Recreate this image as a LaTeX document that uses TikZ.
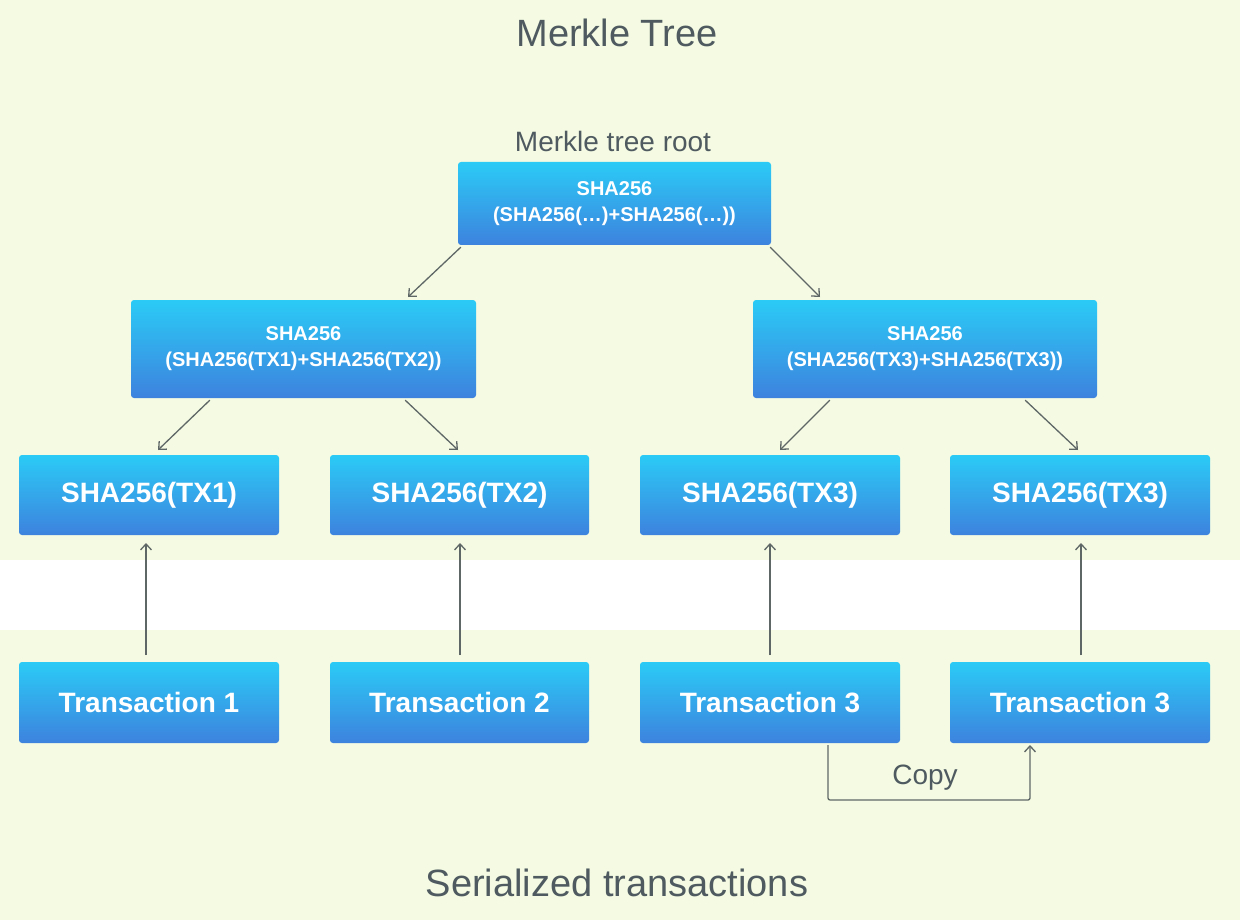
\documentclass[tikz,border=0pt]{standalone}
\usepackage{fontspec}
\setmainfont{Liberation Sans}
\usetikzlibrary{arrows.meta}
\definecolor{bg}{HTML}{F4FBE2}
\definecolor{btop}{HTML}{2BCBF6}
\definecolor{bbot}{HTML}{3D82DE}
\definecolor{txt}{HTML}{4F5A60}
\definecolor{ln}{HTML}{5F6666}
\begin{document}
\begin{tikzpicture}[x=1pt,y=-1pt,
  box/.style={rounded corners=3pt,top color=btop,bottom color=bbot,draw=none,text=white,font=\bfseries,align=center,inner sep=0pt},
  conn/.style={draw=ln,line width=1.3pt,-{Straight Barb[length=6pt,width=11pt]}}]
\useasboundingbox (0,0) rectangle (1240,920);
\fill[bg] (0,0) rectangle (1240,920);
\fill[white] (0,560) rectangle (1240,630);
\node[font=\fontsize{38}{40}\selectfont,text=txt] (t1) at (617,33) {Merkle Tree};
\node[font=\fontsize{28}{30}\selectfont,text=txt] (t2) at (613,141) {Merkle tree root};
\node[font=\fontsize{38}{40}\selectfont,text=txt] (t3) at (617,883) {Serialized transactions};
\newcommand{\bx}[6]{\node[box,minimum width=#4-#2,minimum height=#5-#3,font=#6] (#1) at ({(#2+#4)/2},{(#3+#5)/2})}
\bx{root}{458}{162}{771}{245}{\bfseries\fontsize{20}{26}\selectfont} {SHA256\\(SHA256(…)+SHA256(…))};
\bx{L}{131}{300}{476}{398}{\bfseries\fontsize{20}{26}\selectfont} {SHA256\\(SHA256(TX1)+SHA256(TX2))};
\bx{R}{753}{300}{1097}{398}{\bfseries\fontsize{20}{26}\selectfont} {SHA256\\(SHA256(TX3)+SHA256(TX3))};
\bx{h1}{19}{455}{279}{535}{\bfseries\fontsize{28}{30}\selectfont} {SHA256(TX1)};
\bx{h2}{330}{455}{589}{535}{\bfseries\fontsize{28}{30}\selectfont} {SHA256(TX2)};
\bx{h3}{640}{455}{900}{535}{\bfseries\fontsize{28}{30}\selectfont} {SHA256(TX3)};
\bx{h4}{950}{455}{1210}{535}{\bfseries\fontsize{28}{30}\selectfont} {SHA256(TX3)};
\bx{x1}{19}{662}{279}{743}{\bfseries\fontsize{28}{30}\selectfont} {Transaction 1};
\bx{x2}{330}{662}{589}{743}{\bfseries\fontsize{28}{30}\selectfont} {Transaction 2};
\bx{x3}{640}{662}{900}{743}{\bfseries\fontsize{28}{30}\selectfont} {Transaction 3};
\bx{x4}{950}{662}{1210}{743}{\bfseries\fontsize{28}{30}\selectfont} {Transaction 3};
\draw[conn] (root.south west) ++(3,2) -- (408,297);
\draw[conn] (root.south east) ++(-1,2) -- (820,297);
\draw[conn] (L.south west) ++(79,2) -- (158,450);
\draw[conn] (L.south east) ++(-71,2) -- (458,450);
\draw[conn] (R.south west) ++(77,2) -- (780,450);
\draw[conn] (R.south east) ++(-72,2) -- (1078,450);
\foreach \a/\b/\xx in {x1/h1/146,x2/h2/460,x3/h3/770,x4/h4/1081}
  \draw[conn] (\xx,655) -- (\xx,543);
\coordinate (c1) at (828,800);
\coordinate (c2) at (1030,800);
\draw[conn,rounded corners=2pt] (828,745) -- (c1) -- (c2) -- (1030,745);
\node[font=\fontsize{28}{30}\selectfont,text=txt] (cp) at (925,778) {Copy};
\end{tikzpicture}
\end{document}
